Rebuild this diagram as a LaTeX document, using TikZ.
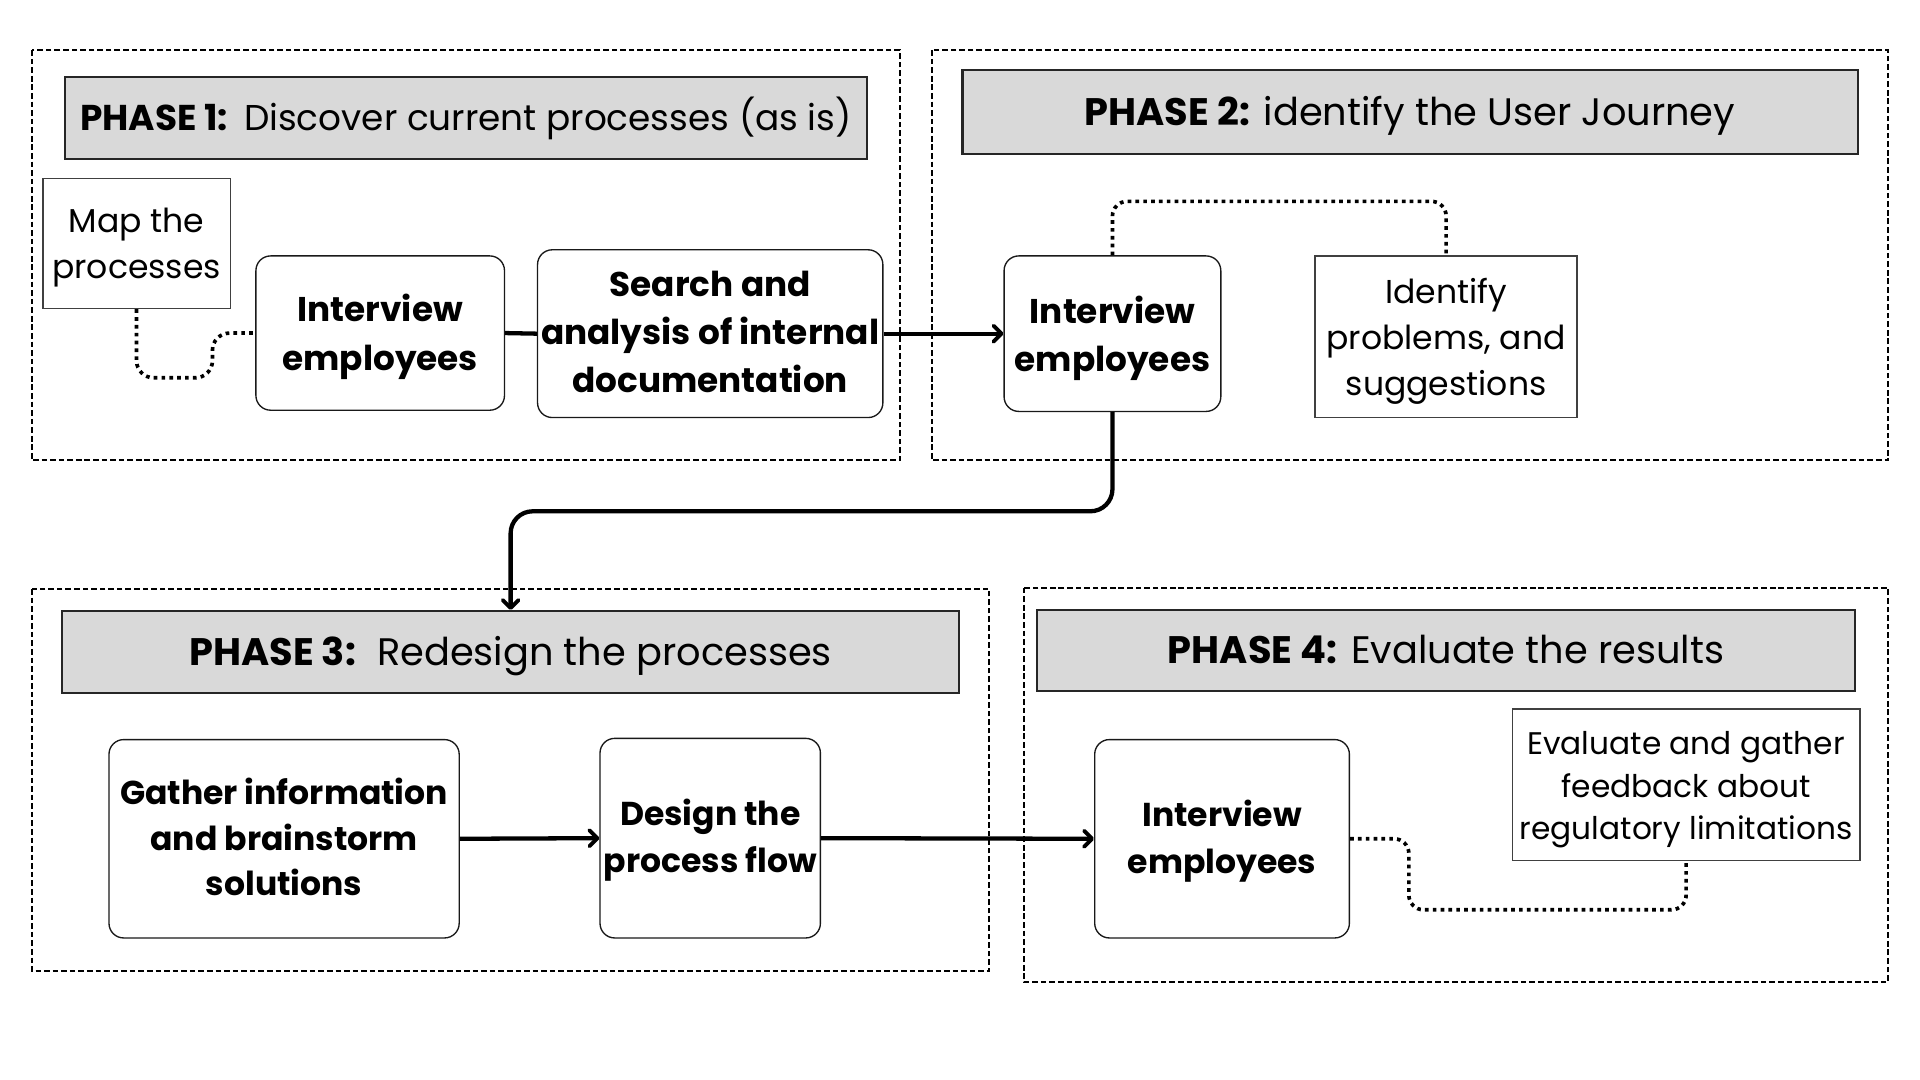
\documentclass[tikz,border=0pt]{standalone}
\usepackage{fontspec}
\setmainfont{Poppins}
\usetikzlibrary{arrows.meta,calc}
\definecolor{titlegray}{HTML}{D9D9D9}
\tikzset{
  phasebox/.style={draw=black, line width=1.5pt, dash pattern=on 4.6pt off 2.4pt},
  titlebox/.style={draw=black!85, line width=1.7pt, fill=titlegray, inner sep=0pt,
    text height=21.9pt, text depth=0pt, font=\fontsize{31.3}{36}\selectfont},
  rbox/.style={draw=black!90, line width=1.1pt, rounded corners=12pt, fill=white, inner sep=0pt},
  pbox/.style={draw=black!75, line width=1.1pt, fill=white, inner sep=0pt},
  btext/.style={align=center, inner sep=0pt, font=\fontsize{28}{40}\selectfont\bfseries},
  btextsmall/.style={align=center, inner sep=0pt, font=\fontsize{27}{38}\selectfont\bfseries},
  ptext/.style={align=center, inner sep=0pt, font=\fontsize{27}{38}\selectfont},
  flow/.style={line width=3.5pt, -{Straight Barb[length=6.5pt,width=13pt,line width=3.2pt,round]}},
  link/.style={line width=3.5pt},
  dotlink/.style={line width=3pt, dash pattern=on 3pt off 3.4pt, rounded corners=14pt},
}
\begin{document}
\begin{tikzpicture}[x=1pt,y=-1pt]
\useasboundingbox (0,0) rectangle (1568,882);
\fill[white] (0,0) rectangle (1568,882);

% phase frames
\draw[phasebox] (26,41) rectangle (735,376);
\draw[phasebox] (761,41) rectangle (1542,376);
\draw[phasebox] (26,481) rectangle (808,793);
\draw[phasebox] (836,480) rectangle (1542,802);

% titles
\node[titlebox, minimum width=655pt, minimum height=67pt, text height=20.5pt, font=\fontsize{29.3}{36}\selectfont] (t1) at (380.5,96.5)
  {\textbf{PHASE 1:}\hspace{0.45em}Discover current processes (as is)};
\node[titlebox, minimum width=731pt, minimum height=69pt] (t2) at (1151.5,91.5)
  {\textbf{PHASE 2:} identify the User Journey};
\node[titlebox, minimum width=732pt, minimum height=67pt] (t3) at (417,532.5)
  {\textbf{PHASE 3:}\hspace{0.55em}Redesign the processes\hspace{7pt}};
\node[titlebox, minimum width=668pt, minimum height=66pt] (t4) at (1181,531)
  {\textbf{PHASE 4:} Evaluate the results};

% phase 1
\node[pbox, minimum width=153pt, minimum height=106pt] (map) at (111.5,199) {};
\node[ptext] at ($(map)+(0,3)$) {Map the\\processes};
\node[rbox, minimum width=203pt, minimum height=126pt] (int1) at (310.5,272) {};
\node[btext] at ($(int1)+(0,3)$) {Interview\\employees};
\node[rbox, minimum width=282pt, minimum height=137pt] (search) at (580,272.5) {};
\node[btext, font=\fontsize{28}{39.5}\selectfont\bfseries] at ($(search)+(0,-1.5)$) {Search and\\analysis of internal\\documentation};

% phase 2
\node[rbox, minimum width=177pt, minimum height=127pt] (int2) at (908.5,272.5) {};
\node[btext, font=\fontsize{28}{39}\selectfont\bfseries] at ($(int2)+(0,4)$) {Interview\\employees};
\node[pbox, minimum width=214pt, minimum height=132pt] (ident) at (1181,275) {};
\node[ptext, font=\fontsize{27}{37.5}\selectfont] at ($(ident)+(0,3.5)$) {Identify\\problems, and\\suggestions};

% phase 3
\node[rbox, minimum width=286pt, minimum height=162pt] (gather) at (232,685) {};
\node[btextsmall, font=\fontsize{27}{37.5}\selectfont\bfseries] at ($(gather)+(0,-1.5)$) {Gather information\\and brainstorm\\solutions};
\node[rbox, minimum width=180pt, minimum height=163pt] (design) at (580,684.5) {};
\node[btextsmall] at ($(design)+(0,1.5)$) {Design the\\process flow};

% phase 4
\node[rbox, minimum width=208pt, minimum height=162pt] (int4) at (998,685) {};
\node[btextsmall] at ($(int4)+(0,2)$) {Interview\\employees};
\node[pbox, minimum width=284pt, minimum height=124pt] (eval) at (1377,641) {};
\node[ptext, font=\fontsize{25.5}{35}\selectfont] at ($(eval)+(0,4)$) {Evaluate and gather\\feedback about\\regulatory limitations};

% connectors
\draw[dotlink] (map.south) -- ++(0,56) -- ++(62,0) |- (int1.west);
\draw[link] (int1.east) -- (search.west);
\draw[flow] (search.east) -- (int2.west);
\draw[dotlink, rounded corners=12pt] (int2.north) -- ++(0,-44) -| (ident.north);
\draw[flow, rounded corners=18pt] (int2.south) -- ++(0,81) -| (t3.north);
\draw[flow] (gather.east) -- (design.west);
\draw[flow] (design.east) -- (int4.west);
\draw[dotlink, rounded corners=12pt] (int4.east) -- ++(48,0) -- ++(0,58) -| (eval.south);
\end{tikzpicture}
\end{document}
